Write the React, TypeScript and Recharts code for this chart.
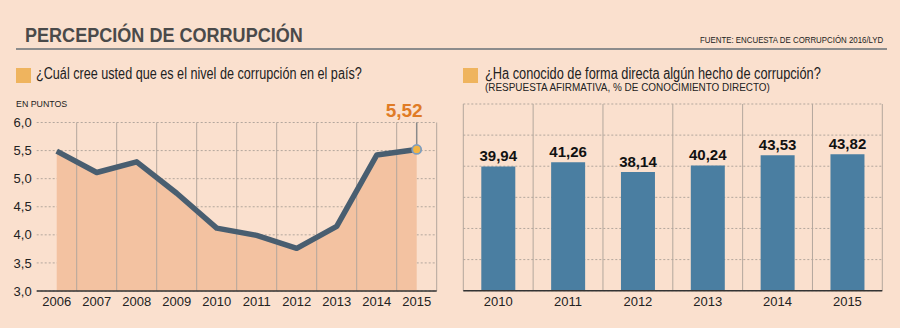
import { useLayoutEffect, useRef, useState } from "react";
import {
  ComposedChart,
  BarChart,
  Area,
  Line,
  Bar,
  XAxis,
  YAxis,
  CartesianGrid,
  ReferenceLine,
  ReferenceDot,
  LabelList,
} from "recharts";

// Percepción (escala 1-10), 2006-2015
const perceptionYears = ["2006", "2007", "2008", "2009", "2010", "2011", "2012", "2013", "2014", "2015"];
const perception = [5.49, 5.11, 5.3, 4.74, 4.12, 3.99, 3.76, 4.15, 5.42, 5.52];
const perceptionTicks = [3, 3.5, 4, 4.5, 5, 5.5, 6];

// Conocimiento directo (%), 2010-2015
const knowledgeYears = ["2010", "2011", "2012", "2013", "2014", "2015"];
const knowledge = [39.94, 41.26, 38.14, 40.24, 43.53, 43.82];
const knowledgeTicks = [0, 10, 20, 30, 40, 50, 60];

const BG = "#fae0ce";
const FONT = "'Liberation Sans', Arial, sans-serif";
const GRID = "#b3a79d";
const AXIS = "#333333";

const comma = (v: number, d: number) => v.toFixed(d).replace(".", ",");

const perceptionData = perceptionYears.map((year, i) => ({ year, value: perception[i] }));
const knowledgeData = knowledgeYears.map((year, i) => ({ year, value: knowledge[i] }));

const tickStyle = { fontSize: 13, fill: "#222", fontFamily: FONT };

// text squeezed horizontally to a given width (the original uses a narrow face)
function FitText({ x, baseline, width, size, bold = false, color = "#222", children }: any) {
  const ref = useRef<HTMLSpanElement>(null);
  const [sx, setSx] = useState(1);
  useLayoutEffect(() => {
    const w = ref.current ? ref.current.offsetWidth : 0;
    if (w > 0) setSx(width / w);
  }, [width]);
  return (
    <span ref={ref} style={{
      position: "absolute", left: x, top: baseline - 0.8465 * size,
      fontSize: size, lineHeight: `${size}px`, whiteSpace: "nowrap",
      fontFamily: FONT, fontWeight: bold ? "bold" : "normal", color,
      transform: `scaleX(${sx})`, transformOrigin: "left top",
    }}>
      {children}
    </span>
  );
}

function Header() {
  return (
    <>
      <FitText x={25} baseline={41.5} width={278} size={20} bold color="#4a4a4a">
        PERCEPCIÓN DE CORRUPCIÓN
      </FitText>
      <FitText x={699.5} baseline={43.5} width={183} size={9.5}>
        FUENTE: ENCUESTA DE CORRUPCIÓN 2016/LYD
      </FitText>
      <div style={{ position: "absolute", left: 16, top: 48, width: 871, height: 2, background: "#8c8c8c" }} />

      <div style={{ position: "absolute", left: 16, top: 68, width: 15, height: 15, background: "#efb45e" }} />
      <FitText x={36} baseline={80} width={326} size={16}>
        ¿Cuál cree usted que es el nivel de corrupción en el país?
      </FitText>
      <FitText x={16} baseline={107.5} width={51} size={9.5}>
        EN PUNTOS
      </FitText>

      <div style={{ position: "absolute", left: 463, top: 68, width: 15, height: 15, background: "#efb45e" }} />
      <FitText x={485} baseline={80} width={336} size={16}>
        ¿Ha conocido de forma directa algún hecho de corrupción?
      </FitText>
      <FitText x={485} baseline={91.5} width={285} size={10}>
        (RESPUESTA AFIRMATIVA, % DE CONOCIMIENTO DIRECTO)
      </FitText>
    </>
  );
}

function LastValueMarker(props: any) {
  const { cx, cy } = props;
  const last = perception[perception.length - 1];
  return (
    <g>
      <line x1={cx} y1={cy - 4} x2={cx} y2={cy - 27} stroke="#8a8a8a" strokeWidth={1.5} />
      <circle cx={cx} cy={cy} r={4.5} fill="#f2b443" stroke="#7d9dbf" strokeWidth={1.8} />
      <text x={cx + 6} y={cy - 32} textAnchor="end" fontFamily={FONT} fontWeight="bold"
        fontSize={19} fill="#e07b25">
        {comma(last, 2)}
      </text>
    </g>
  );
}

function PerceptionChart() {
  return (
    <div style={{ position: "absolute", left: 0, top: 100 }}>
      <ComposedChart width={450} height={228} data={perceptionData}
        margin={{ top: 22.5, right: 13.3, left: 0, bottom: 0 }}>
        <Area type="linear" dataKey="value" stroke="none" fill="#f3c2a1" fillOpacity={1}
          isAnimationActive={false} />
        <CartesianGrid vertical={false} stroke={GRID} strokeDasharray="2 2" />
        {perceptionYears.slice(1).map(y => (
          <ReferenceLine key={y} x={y} position="start" stroke={GRID} strokeWidth={1} />
        ))}
        <ReferenceLine x="2015" position="end" stroke={GRID} strokeWidth={1} />
        <XAxis dataKey="year" scale="band" height={37} tickLine={false}
          axisLine={{ stroke: AXIS, strokeWidth: 1.5 }} tick={tickStyle} tickSize={0} tickMargin={6}
          interval={0} />
        <YAxis domain={[3, 6]} ticks={perceptionTicks} width={36.7} axisLine={false} tickLine={false}
          tickSize={0} tickMargin={5} tick={tickStyle} tickFormatter={(v: number) => comma(v, 1)} />
        <Line type="linear" dataKey="value" stroke="#495e70" strokeWidth={5.5} dot={false}
          activeDot={false} strokeLinejoin="round" isAnimationActive={false} />
        <ReferenceDot x="2015" y={perception[perception.length - 1]} shape={LastValueMarker} />
      </ComposedChart>
    </div>
  );
}

function KnowledgeChart() {
  return (
    <div style={{ position: "absolute", left: 450, top: 100 }}>
      <BarChart width={450} height={228} data={knowledgeData}
        margin={{ top: 4, right: 17.7, left: 13.3, bottom: 0 }}>
        <CartesianGrid vertical={false} stroke={GRID} strokeDasharray="2 2" />
        {knowledgeYears.map(y => (
          <ReferenceLine key={y} x={y} position="start" stroke={GRID} strokeWidth={1} />
        ))}
        <ReferenceLine x="2015" position="end" stroke={GRID} strokeWidth={1} />
        <XAxis dataKey="year" height={37.3} tickLine={false}
          axisLine={{ stroke: AXIS, strokeWidth: 1.5 }} tick={tickStyle} tickSize={0} tickMargin={6}
          interval={0} />
        <YAxis hide domain={[0, 60]} ticks={knowledgeTicks} />
        <Bar dataKey="value" fill="#4a7ea1" barSize={34} isAnimationActive={false}>
          <LabelList dataKey="value" position="top" offset={5}
            formatter={(v: any) => comma(Number(v), 2)}
            style={{ fontFamily: FONT, fontWeight: "bold", fontSize: 15, fill: "#111" }} />
        </Bar>
      </BarChart>
    </div>
  );
}

export default function App() {
  return (
    <div style={{ position: "absolute", left: 0, top: 0, width: 900, height: 328, background: BG, overflow: "hidden" }}>
      <Header />
      <PerceptionChart />
      <KnowledgeChart />
    </div>
  );
}
